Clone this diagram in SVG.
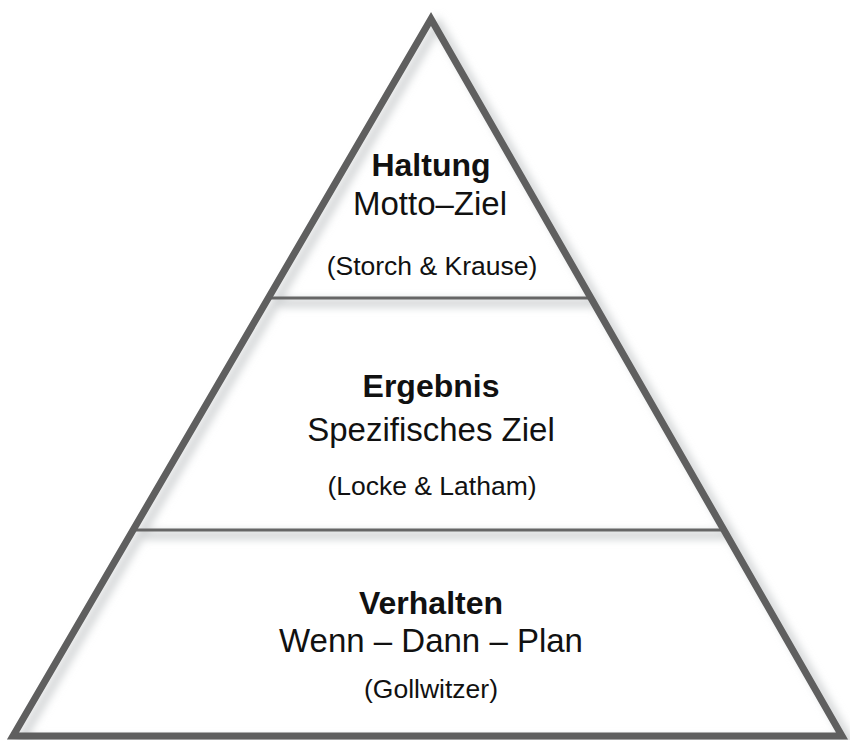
<svg xmlns="http://www.w3.org/2000/svg" width="850" height="740" viewBox="0 0 850 740">
  <defs>
    <filter id="shadow" x="-10%" y="-10%" width="120%" height="120%">
      <feGaussianBlur stdDeviation="4"/>
    </filter>
    <style>
      .edge { fill: none; stroke: #5f5f5f; stroke-width: 7; stroke-linejoin: miter; stroke-miterlimit: 10; }
      .div { stroke: #666666; stroke-width: 3; }
      .shadow { fill: none; stroke: #cfd1d3; stroke-width: 8; }
      .t { font-family: "Liberation Sans", Arial, sans-serif; fill: #111111; text-anchor: middle; }
      .b { font-weight: bold; font-size: 32px; }
      .r { font-size: 33px; }
      .s { font-size: 26.5px; }
    </style>
  </defs>
  <rect width="850" height="740" fill="#ffffff"/>
  <g id="shadows" filter="url(#shadow)" transform="translate(7,5)">
    <path class="shadow" d="M431,19 L13,736 L842,736 Z"/>
    <line class="shadow" x1="268" y1="298" x2="591" y2="298" stroke-width="5"/>
    <line class="shadow" x1="133" y1="530" x2="724" y2="530" stroke-width="5"/>
  </g>
  <g id="connectors">
    <line class="div" x1="268" y1="298" x2="591" y2="298"/>
    <line class="div" x1="133" y1="530" x2="724" y2="530"/>
  </g>
  <g id="pyramid">
    <path class="edge" d="M431,19 L13,736 L842,736 Z"/>
  </g>
  <g id="top">
    <text class="t b" x="431" y="176">Haltung</text>
    <text class="t r" x="430" y="215">Motto–Ziel</text>
    <text class="t s" x="432" y="275">(Storch &amp; Krause)</text>
  </g>
  <g id="middle">
    <text class="t b" x="431" y="397">Ergebnis</text>
    <text class="t r" x="431" y="441">Spezifisches Ziel</text>
    <text class="t s" x="432" y="495">(Locke &amp; Latham)</text>
  </g>
  <g id="bottom">
    <text class="t b" x="431" y="614">Verhalten</text>
    <text class="t r" x="431" y="652">Wenn – Dann – Plan</text>
    <text class="t s" x="431" y="698">(Gollwitzer)</text>
  </g>
</svg>
